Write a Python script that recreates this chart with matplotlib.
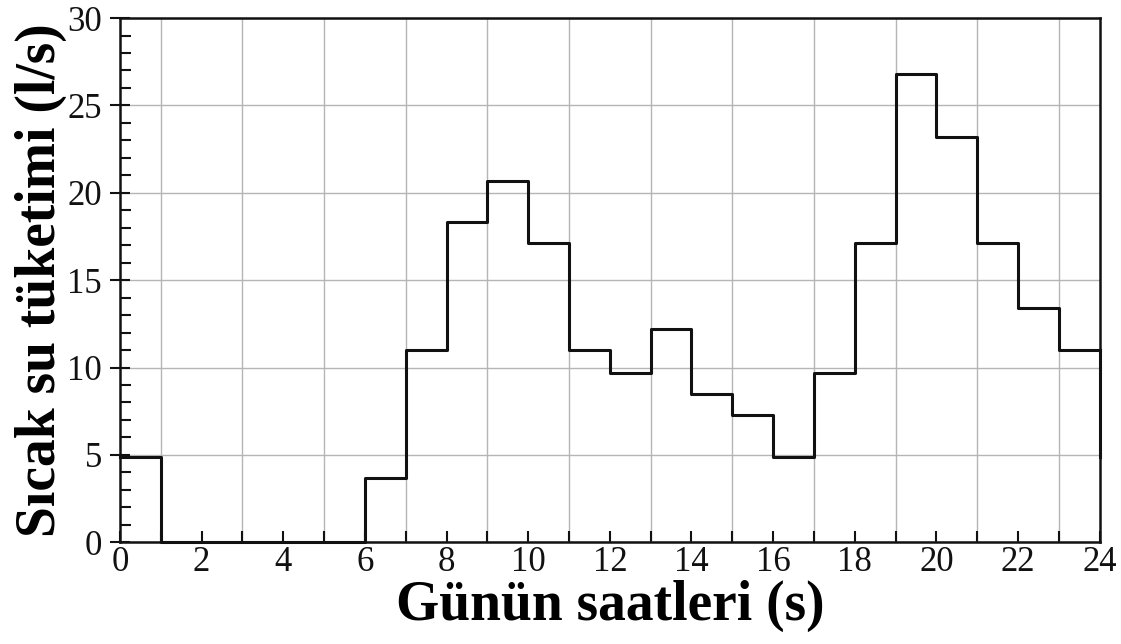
import numpy as np
import matplotlib.pyplot as plt
from matplotlib.ticker import MultipleLocator

# hourly hot water consumption (l/s), one value per hour 0..23
hours = list(range(25))
consumption = [4.9, 0, 0, 0, 0, 0, 3.7, 11.0, 18.3, 20.7, 17.1, 11.0,
               9.7, 12.2, 8.5, 7.3, 4.9, 9.7, 17.1, 26.8, 23.2, 17.1, 13.4, 11.0]
x_ticks = list(range(0, 25, 2))
y_ticks = [0, 5, 10, 15, 20, 25, 30]

plt.rcParams['font.family'] = ['Liberation Serif', 'DejaVu Serif']

fig = plt.figure(figsize=(11.21, 6.44), dpi=100)
ax = fig.add_axes([0.107, 0.158, 0.874, 0.814])

# step line, closing back to the first hour's value at 24
vals = consumption + [consumption[0]]
ax.step(hours, consumption + [consumption[-1]], where='post', color='#111111', lw=2.2,
        zorder=3, clip_on=False)
ax.plot([hours[-1], hours[-1]], [consumption[-1], vals[-1]], color='#111111', lw=2.2,
        zorder=3, clip_on=False)

ax.set_xlim(0, 24)
ax.set_ylim(0, 30)
ax.set_xticks(x_ticks)
ax.set_yticks(y_ticks)
ax.xaxis.set_minor_locator(MultipleLocator(1))
ax.yaxis.set_minor_locator(MultipleLocator(1))

ax.grid(True, which='major', axis='y', color='#b5b5b5', lw=1)
ax.grid(True, which='minor', axis='x', color='#b5b5b5', lw=1)
ax.set_axisbelow(True)

ax.tick_params(axis='both', which='major', labelsize=25, direction='inout',
               length=14, width=1.5, colors='#111111', pad=3)
ax.tick_params(axis='y', which='major', pad=6)
ax.tick_params(axis='both', which='minor', direction='in', length=8, width=1.5,
               colors='#111111')
ax.tick_params(axis='x', which='major', direction='in', length=8)
for s in ax.spines.values():
    s.set_linewidth(1.8)
    s.set_color('#111111')

ax.set_xlabel('Günün saatleri (s)', fontsize=40, fontweight='bold', labelpad=0)
ax.set_ylabel('Sıcak su tüketimi (l/s)', fontsize=40, fontweight='bold', labelpad=0)

fig.savefig('out.png', dpi=100)
